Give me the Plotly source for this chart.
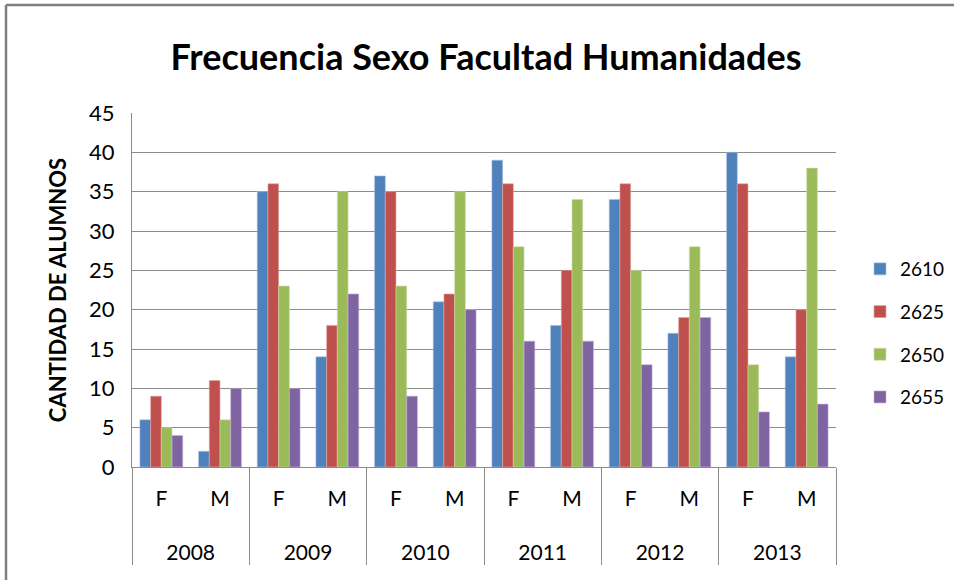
import plotly.graph_objects as go

years = ["2008", "2008", "2009", "2009", "2010", "2010", "2011", "2011", "2012", "2012", "2013", "2013"]
sexes = ["F", "M"] * 6
series_names = ["2610", "2625", "2650", "2655"]
v2610 = [6, 2, 35, 14, 37, 21, 39, 18, 34, 17, 40, 14]
v2625 = [9, 11, 36, 18, 35, 22, 36, 25, 36, 19, 36, 20]
v2650 = [5, 6, 23, 35, 23, 35, 28, 34, 25, 28, 13, 38]
v2655 = [4, 10, 10, 22, 9, 20, 16, 16, 13, 19, 7, 8]
colors = ["#4F81BD", "#C0504D", "#9BBB59", "#8064A2"]
edge = ["#A7C0DE", "#DFA8A6", "#CDDDAC", "#BFB1D0"]

FONT = "Lato"
LBL = "<span style='font-size:21px'>{}</span>"
year_labels = ["<br>" + LBL.format(y) for y in years]
sex_labels = [LBL.format(s) for s in sexes]

fig = go.Figure()
for i, (name, vals) in enumerate(zip(series_names, [v2610, v2625, v2650, v2655])):
    fig.add_trace(go.Bar(
        x=[year_labels, sex_labels], y=vals, name=name, legendgroup=name,
        marker=dict(color=colors[i], line=dict(color=edge[i], width=0.6)),
    ))

W, H = 954, 580
L, R, T, B = 132, 118, 113, 113
pw, ph = W - L - R, H - T - B

fig.update_layout(
    width=W, height=H,
    margin=dict(l=L, r=R, t=T, b=B),
    paper_bgcolor="white", plot_bgcolor="white",
    barmode="group", bargap=0.27, bargroupgap=0,
    font=dict(family=FONT, color="#000000"),
    title=dict(text="<b>Frecuencia Sexo Facultad Humanidades</b>",
               font=dict(family=FONT, size=36, color="#000000"),
               x=486 / W, xanchor="center", y=1 - 57 / H, yanchor="middle"),
    legend=dict(xref="container", yref="container",
                x=860 / W, xanchor="left", y=1 - 250 / H, yanchor="top",
                font=dict(family=FONT, size=19, color="#000000"),
                traceorder="grouped", tracegroupgap=15, itemwidth=30,
                bgcolor="rgba(0,0,0,0)"),
    xaxis=dict(type="multicategory", showline=True, linecolor="#8C8C8C", linewidth=1.2,
               showdividers=True, dividercolor="#8C8C8C", dividerwidth=1.2,
               tickfont=dict(family=FONT, size=26, color="#000000"),
               ticklabelstandoff=7, automargin=False,
               ticks="", showgrid=False),
    yaxis=dict(range=[0, 45], dtick=5, showgrid=True, gridcolor="#8C8C8C", gridwidth=1.2,
               showline=True, linecolor="#8C8C8C", linewidth=1.2, zeroline=False,
               tickfont=dict(family=FONT, size=22, color="#000000"), ticks="",
               ticklabelstandoff=12, automargin=False,
               title=dict(text="<b>CANTIDAD DE ALUMNOS</b>", standoff=16,
                          font=dict(family=FONT, size=22, color="#000000"))),
)

# outer chart frame (left and top edges visible)
x0 = (6 - L) / pw
y1 = (H - B - 5) / ph
fig.add_shape(type="line", xref="paper", yref="paper", x0=x0, x1=x0, y0=-0.5, y1=y1,
              line=dict(color="#7F7F7F", width=2.5))
fig.add_shape(type="line", xref="paper", yref="paper", x0=x0, x1=2, y0=y1, y1=y1,
              line=dict(color="#7F7F7F", width=2.5))

fig.write_html("out.html", config={"displayModeBar": False},
               post_script="document.body.style.margin='0';")
